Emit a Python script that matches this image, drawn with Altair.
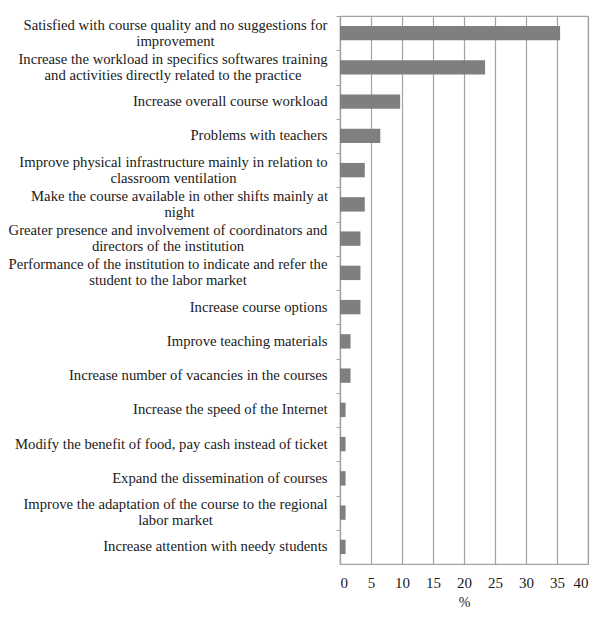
import altair as alt
import pandas as pd

# Categories (top to bottom); "|" marks a line break in the label
categories = [
    "Satisfied with course quality and no suggestions for|improvement",
    "Increase the workload in specifics softwares training|and activities directly related to the practice",
    "Increase overall course workload",
    "Problems with teachers",
    "Improve physical infrastructure mainly in relation to|classroom ventilation",
    "Make the course available in other shifts mainly at|night",
    "Greater presence and involvement of coordinators and|directors of the institution",
    "Performance of the institution to indicate and refer the|student to the labor market",
    "Increase course options",
    "Improve teaching materials",
    "Increase number of vacancies in the courses",
    "Increase the speed of the Internet",
    "Modify the benefit of food, pay cash instead of ticket",
    "Expand the dissemination of courses",
    "Improve the adaptation of the course to the regional|labor market",
    "Increase attention with needy students",
]
values = [35.5, 23.4, 9.7, 6.5, 4.0, 4.0, 3.3, 3.3, 3.3, 1.7, 1.7, 0.9, 0.9, 0.9, 0.9, 0.9]
x_ticks = [0, 5, 10, 15, 20, 25, 30, 35, 40]

df = pd.DataFrame({"label": categories, "pct": values})

# Layout only: pixel width of the first (longest) line of each two-line label,
# used to centre the two-line label blocks while keeping their right edge aligned.
block_w = {0: 304, 1: 309, 4: 308, 5: 296, 6: 319, 7: 319, 14: 304}
GAP = 9
pad_expr = ""
for i, w in block_w.items():
    pad_expr += f"datum.value == '{categories[i]}' ? {GAP + w / 2} : "
pad_expr += str(GAP)

FONT = "Liberation Serif"
GRID = "#a3a3a3"
TXT = "#1a1a1a"
HALF_STEP = 548 / 16 / 2  # move ticks to band boundaries, labels stay centred

two_line = "indexof(datum.value, '|') >= 0"

chart = alt.Chart(df).mark_bar(color="#7f7f7f").encode(
    x=alt.X(
        "pct:Q",
        scale=alt.Scale(domain=[0, 40], nice=False),
        axis=alt.Axis(
            values=x_ticks, title="%", grid=True, gridColor=GRID, gridWidth=1.2,
            ticks=False, domainColor=GRID, domainWidth=1.2,
            labelFont=FONT, labelFontSize=15, labelColor=TXT, labelPadding=11,
            titleFont=FONT, titleFontSize=14, titleFontWeight="normal",
            titleColor=TXT, titlePadding=5,
        ),
    ),
    y=alt.Y(
        "label:N",
        sort=categories,
        scale=alt.Scale(paddingInner=0.58, paddingOuter=0.29),
        axis=alt.Axis(
            title=None, grid=False, ticks=True, tickSize=4, tickColor=GRID,
            tickOffset=-HALF_STEP, labelOffset=HALF_STEP,
            domainColor=GRID, domainWidth=1.2,
            labelExpr="split(datum.label, '|')",
            labelFont=FONT, labelFontSize=14.7, labelColor=TXT,
            labelLineHeight=16, labelLimit=400,
            labelAlign={"condition": {"test": two_line, "value": "center"}, "value": "right"},
            labelBaseline={"condition": {"test": two_line, "value": "line-bottom"}, "value": "middle"},
            labelPadding={"expr": pad_expr},
        ),
    ),
).properties(
    width=248,
    height=548,
    autosize=alt.AutoSizeParams(type="none"),
    padding={"left": 340, "top": 16, "right": 12, "bottom": 54},
).configure_view(
    stroke=GRID, strokeWidth=1.2
)

chart.save("out.html", embed_options={"renderer": "svg", "actions": False})
